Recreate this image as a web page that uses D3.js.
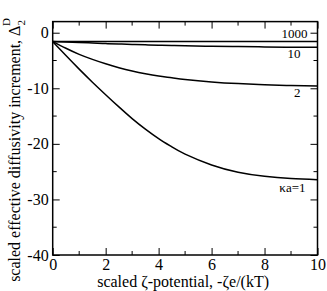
<!DOCTYPE html>
<html>
<head>
<meta charset="utf-8">
<script src="https://cdn.jsdelivr.net/npm/d3@7"></script>
<style>
  body { margin: 0; background: #fff; }
  svg { display: block; }
  svg text { font-family: "Liberation Serif", "Times New Roman", "DejaVu Serif", serif; }
</style>
</head>
<body>
<svg width="327" height="291"></svg>
<script>
// scaled zeta-potential values for each curve
var zeta = [0, 0.5, 1, 1.5, 2, 2.5, 3, 3.5, 4, 4.5, 5, 6, 7, 8, 9, 10];

// diffusivity increment, one list per kappa*a
var ka1 = [-1.6, -4.1, -6.55, -8.9, -11.15, -13.35, -15.45, -17.35, -19.05, -20.55, -21.85, -23.8, -25.1, -25.85, -26.25, -26.45];
var ka2 = [-1.6, -2.8, -3.9, -4.8, -5.6, -6.3, -6.9, -7.4, -7.8, -8.1, -8.4, -8.85, -9.15, -9.35, -9.5, -9.6];
var ka10 = [-1.6, -1.68, -1.75, -1.85, -1.95, -2.03, -2.1, -2.18, -2.25, -2.3, -2.35, -2.45, -2.5, -2.55, -2.6, -2.6];
var ka1000 = [-1.6, -1.6, -1.6, -1.6, -1.6, -1.6, -1.6, -1.6, -1.6, -1.6, -1.6, -1.6, -1.6, -1.6, -1.6, -1.6];

var curveLabels = ["\u03baa=1", "2", "10", "1000"];
var xTicks = [0, 2, 4, 6, 8, 10];
var yTicks = [0, -10, -20, -30, -40];

var svg = d3.select("svg");
var pLeft = 52.7, pRight = 317.5, pTop = 21.6, pBottom = 255;

var x = d3.scaleLinear().domain([0, 10]).range([pLeft, pRight]);
var y = d3.scaleLinear().domain([-40, 2]).range([pBottom, pTop]);

var series = [ka1, ka2, ka10, ka1000];

var line = d3.line()
    .x(function(d, i) { return x(zeta[i]); })
    .y(function(d) { return y(d); })
    .curve(d3.curveNatural);

svg.selectAll(".curve")
    .data(series)
    .enter()
    .append("path")
    .attr("class", "curve")
    .attr("d", line)
    .attr("fill", "none")
    .attr("stroke", "#000")
    .attr("stroke-width", 1.5);

// axes: ticks point inwards, mirrored on top and right
var minorX = d3.range(1, 10, 2);
var minorY = d3.range(-35, 2, 10);
var plain = function(d) { return d < 0 ? "-" + Math.abs(d) : String(d); };

var bottomAxis = svg.append("g").attr("transform", "translate(0," + pBottom + ")")
    .call(d3.axisBottom(x).tickValues(xTicks).tickFormat(plain).tickSizeInner(-7).tickSizeOuter(0).tickPadding(4));
bottomAxis.selectAll(".minor").data(minorX).enter().append("line").attr("class", "minor")
    .attr("x1", function(d) { return x(d); }).attr("x2", function(d) { return x(d); })
    .attr("y1", 0).attr("y2", -4);

var topAxis = svg.append("g").attr("transform", "translate(0," + pTop + ")")
    .call(d3.axisTop(x).tickValues(xTicks).tickSizeInner(-7).tickSizeOuter(0).tickFormat(""));
topAxis.selectAll(".minor").data(minorX).enter().append("line").attr("class", "minor")
    .attr("x1", function(d) { return x(d); }).attr("x2", function(d) { return x(d); })
    .attr("y1", 0).attr("y2", 4);

var leftAxis = svg.append("g").attr("transform", "translate(" + pLeft + ",0)")
    .call(d3.axisLeft(y).tickValues(yTicks).tickFormat(plain).tickSizeInner(-7).tickSizeOuter(0).tickPadding(4));
leftAxis.selectAll(".minor").data(minorY).enter().append("line").attr("class", "minor")
    .attr("y1", function(d) { return y(d); }).attr("y2", function(d) { return y(d); })
    .attr("x1", 0).attr("x2", 4);

var rightAxis = svg.append("g").attr("transform", "translate(" + pRight + ",0)")
    .call(d3.axisRight(y).tickValues(yTicks).tickSizeInner(-7).tickSizeOuter(0).tickFormat(""));
rightAxis.selectAll(".minor").data(minorY).enter().append("line").attr("class", "minor")
    .attr("y1", function(d) { return y(d); }).attr("y2", function(d) { return y(d); })
    .attr("x1", 0).attr("x2", -4);

svg.selectAll(".domain").remove();
svg.selectAll(".tick line, .minor").attr("stroke", "#000").attr("stroke-width", 1);
svg.selectAll("g").attr("font-family", null).attr("font-size", null);
svg.selectAll(".tick text")
    .attr("font-size", 16)
    .attr("fill", "#000");

// plot frame
svg.append("rect")
    .attr("x", pLeft).attr("y", pTop)
    .attr("width", pRight - pLeft).attr("height", pBottom - pTop)
    .attr("fill", "none")
    .attr("stroke", "#000")
    .attr("stroke-width", 1.5);

// curve labels
var labelPos = [
    { v: ka1[ka1.length - 1], dy: 12, dx: -12 },
    { v: ka2[ka2.length - 1], dy: 11, dx: -17 },
    { v: ka10[ka10.length - 1], dy: 11, dx: -17 },
    { v: ka1000[ka1000.length - 1], dy: -4, dx: -10 }
];
svg.selectAll(".clabel")
    .data(curveLabels)
    .enter()
    .append("text")
    .attr("class", "clabel")
    .attr("x", function(d, i) { return pRight + labelPos[i].dx; })
    .attr("y", function(d, i) { return y(labelPos[i].v) + labelPos[i].dy; })
    .attr("text-anchor", "end")
    .attr("font-size", 13)
    .text(function(d) { return d; });

// axis titles
svg.append("text")
    .attr("x", (pLeft + pRight) / 2 - 2)
    .attr("y", 287)
    .attr("text-anchor", "middle")
    .attr("font-size", 16)
    .text("scaled \u03b6-potential, -\u03b6e/(kT)");

var yt = svg.append("text")
    .attr("transform", "translate(20," + 150 + ") rotate(-90)")
    .attr("text-anchor", "middle")
    .attr("font-size", 16);
yt.append("tspan").text("scaled effective diffusivity increment, \u0394");
yt.append("tspan").attr("font-size", 11).attr("dy", 5).text("2");
yt.append("tspan").attr("font-size", 11).attr("dx", -6).attr("dy", -15).text("D");
</script>
</body>
</html>
